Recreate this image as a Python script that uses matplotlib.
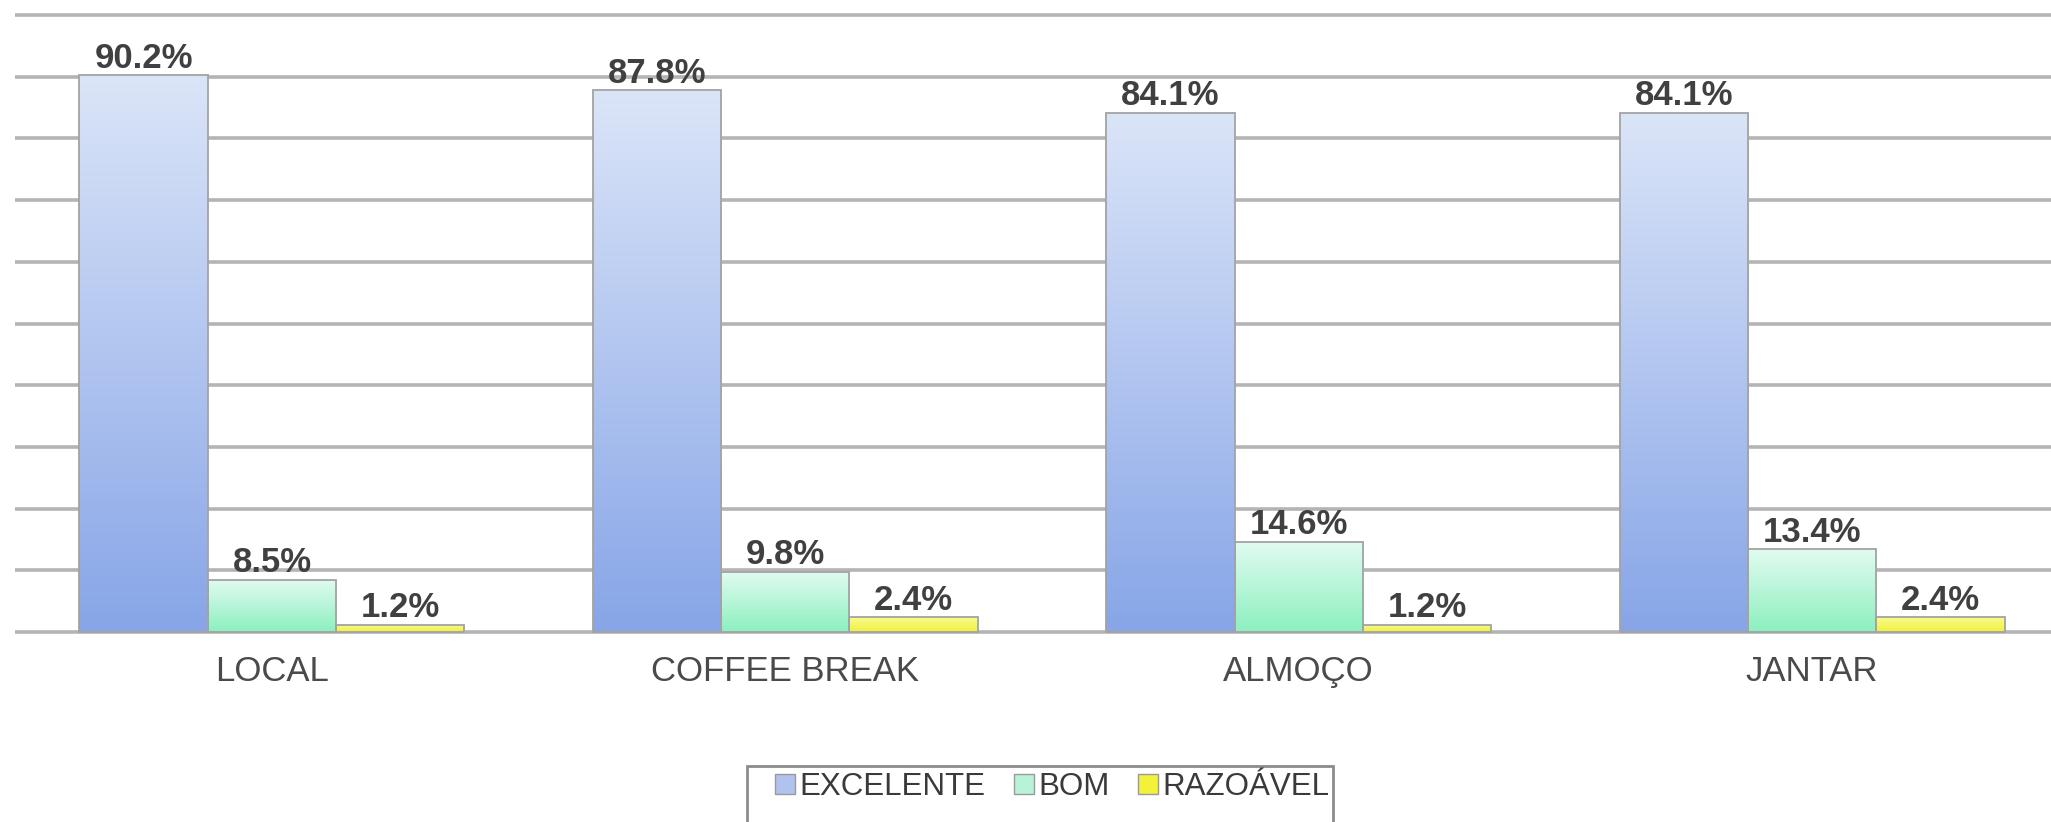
import matplotlib
matplotlib.use("Agg")
import matplotlib.pyplot as plt
import numpy as np
from matplotlib.colors import LinearSegmentedColormap
from matplotlib.patches import Patch, Rectangle

categories = ["LOCAL", "COFFEE BREAK", "ALMOÇO", "JANTAR"]
series_names = ["EXCELENTE", "BOM", "RAZOÁVEL"]
excelente = [90.2, 87.8, 84.1, 84.1]
bom = [8.5, 9.8, 14.6, 13.4]
razoavel = [1.2, 2.4, 1.2, 2.4]

# gradient (top, bottom) per series, plus flat legend colours
grad_colors = [("#dbe5f8", "#87a5e7"), ("#e2fbf1", "#8cf0bf"), ("#fbfb8e", "#f0f03e")]
legend_colors = ["#afc3ee", "#b8f2d8", "#f2f23a"]

FONT = ["Liberation Sans", "DejaVu Sans"]
W, H = 2051, 822
fig = plt.figure(figsize=(W / 100, H / 100), dpi=100)
fig.patch.set_facecolor("white")

# plot area: baseline at 632px, 100% line at 15px, groups spaced ~513px
ylo, yhi = -1.0, 101.0
ppu = (632 - 15) / 100.0
bot_px = 632 + (0 - ylo) * ppu
top_px = 15 - (yhi - 100) * ppu
left_px, right_px = 15.3, 2068.7
ax = fig.add_axes([left_px / W, 1 - bot_px / H, (right_px - left_px) / W, (bot_px - top_px) / H])

ax.set_yticks(np.arange(0, 101, 10))
ax.yaxis.grid(True, color="#b4b4b4", linewidth=2.6)
ax.set_axisbelow(True)
ax.tick_params(axis="y", length=0, labelleft=False)
for s in ax.spines.values():
    s.set_visible(False)

x = np.arange(len(categories))
width = 0.25
offsets = [-width, 0, width]
all_series = [excelente, bom, razoavel]

grad = np.linspace(0, 1, 256).reshape(-1, 1)
for vals, off, (ctop, cbot) in zip(all_series, offsets, grad_colors):
    bars = ax.bar(x + off, vals, width, facecolor="none", edgecolor="#a3a3a3", linewidth=1.3, zorder=3)
    cmap = LinearSegmentedColormap.from_list("g", [cbot, ctop])
    for b, v in zip(bars, vals):
        bx, by = b.get_x(), b.get_y()
        im = ax.imshow(grad, cmap=cmap, aspect="auto", origin="lower",
                       extent=[bx, bx + b.get_width(), by, by + b.get_height()], zorder=2)
        im.set_clip_path(b)
        ax.annotate(f"{v:.1f}%", (b.get_x() + b.get_width() / 2, v), xytext=(0, 5.5),
                    textcoords="offset points", ha="center", va="baseline",
                    fontsize=25, fontweight="bold", color="#404040", family=FONT)

ax.set_xlim(-0.5, len(categories) - 0.5)
ax.set_ylim(ylo, yhi)
ax.set_xticks(x)
ax.set_xticklabels(categories, fontsize=25, color="#4a4a4a", family=FONT)
ax.tick_params(axis="x", length=0, pad=12)

# legend (box is cut off at the bottom of the picture)
handles = [Patch(facecolor=c, edgecolor="#9a9a9a", linewidth=1.0) for c in legend_colors]
leg = fig.legend(handles, series_names, ncol=3, loc="upper left",
                 bbox_to_anchor=(775 / W, 1 - 772 / H), frameon=False,
                 prop={"family": FONT, "size": 22.5},
                 handlelength=0.64, handleheight=0.64, handletextpad=0.15,
                 columnspacing=0.9, borderpad=0, borderaxespad=0)
for t in leg.get_texts():
    t.set_color("#3a3a3a")

fig.canvas.draw()
bb = leg.get_window_extent()
frame = Rectangle((bb.x0 - 28, -40), bb.width + 31, (bb.y1 + 6) + 40,
                  transform=None, facecolor="none", edgecolor="#8c8c8c", linewidth=2.0)
fig.patches.append(frame)

fig.savefig("out.png", dpi=100, facecolor="white")
